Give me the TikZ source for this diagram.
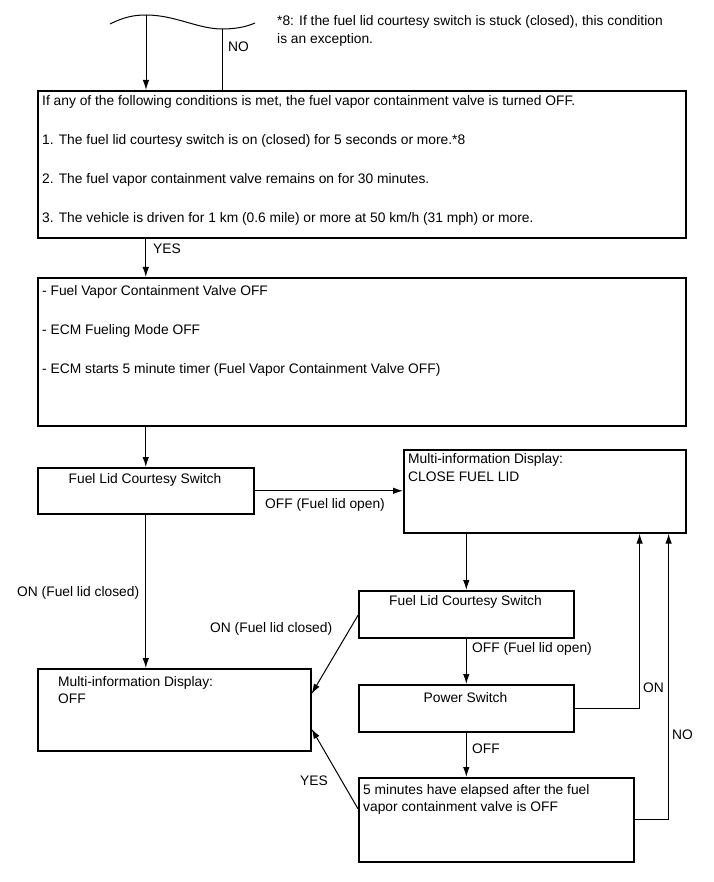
\documentclass[tikz,border=0pt]{standalone}
\usepackage{fontspec}
\setmainfont{Liberation Sans}
\usetikzlibrary{positioning,calc,arrows.meta}

\begin{document}
\begin{tikzpicture}[x=1pt,y=-1pt,
    box/.style={draw,line width=1.6pt,anchor=north west,inner sep=0pt},
    txt/.style={anchor=base west,inner sep=0pt,font=\fontsize{13.8}{17}\selectfont},
    ctxt/.style={txt,anchor=base},
    line/.style={line width=1pt},
    arr/.style={line,-{Latex[length=10pt,width=6.5pt]}}]
    \useasboundingbox (0,0) rectangle (713,882);

    % wavy cut at the top
    \draw[line] (110,24) .. controls (124,17) and (134,15) .. (146,15)
        .. controls (175,15) and (198,29) .. (222,29)
        .. controls (235,29) and (246,27) .. (255,23);
    \coordinate (wtop) at (146,15);
    \coordinate (wno) at (222,29);
    \node (note1) [txt] at (277,26) {*8: If the fuel lid courtesy switch is stuck (closed), this condition};
    \node (note2) [txt] at (277,44) {is an exception.};

    % boxes
    \node (cond) [box,minimum width=648pt,minimum height=147pt] at (37,90) {};
    \node (act) [box,minimum width=648pt,minimum height=148pt] at (37,277) {};
    \node (sw1) [box,minimum width=216pt,minimum height=46pt] at (37,467) {};
    \node (mid1) [box,minimum width=282pt,minimum height=83pt] at (403,449) {};
    \node (mid2) [box,minimum width=273pt,minimum height=82pt] at (37,668) {};
    \node (sw2) [box,minimum width=215pt,minimum height=47pt] at (358,590) {};
    \node (pwr) [box,minimum width=215pt,minimum height=47pt] at (358,684) {};
    \node (tmr) [box,minimum width=275pt,minimum height=84pt] at (358,777) {};

    % texts in the boxes
    \node (cond0) [txt] at (42,106) {If any of the following conditions is met, the fuel vapor containment valve is turned OFF.};
    \node (cond1) [txt] at (42,145) {1. The fuel lid courtesy switch is on (closed) for 5 seconds or more.*8};
    \node (cond2) [txt] at (42,184) {2. The fuel vapor containment valve remains on for 30 minutes.};
    \node (cond3) [txt] at (42,223) {3. The vehicle is driven for 1 km (0.6 mile) or more at 50 km/h (31 mph) or more.};
    \node (act1) [txt] at (42,295) {- Fuel Vapor Containment Valve OFF};
    \node (act2) [txt] at (42,334) {- ECM Fueling Mode OFF};
    \node (act3) [txt] at (42,373) {- ECM starts 5 minute timer (Fuel Vapor Containment Valve OFF)};
    \node (sw1t) [ctxt] at (145,483) {Fuel Lid Courtesy Switch};
    \node (mid1a) [txt] at (408,463) {Multi-information Display:};
    \node (mid1b) [txt] at (408,481) {CLOSE FUEL LID};
    \node (mid2a) [txt] at (58,686) {Multi-information Display:};
    \node (mid2b) [txt] at (58,703) {OFF};
    \node (sw2t) [ctxt] at (465.5,605) {Fuel Lid Courtesy Switch};
    \node (pwrt) [ctxt] at (465.5,702) {Power Switch};
    \node (tmra) [txt] at (363,794) {5 minutes have elapsed after the fuel};
    \node (tmrb) [txt] at (363,811) {vapor containment valve is OFF};

    % connectors
    \draw[arr] (wtop) -- (wtop |- cond.north);
    \draw[line] (wno) -- (wno |- cond.north);
    \draw[arr] (cond.south -| sw1.north) -- (act.north -| sw1.north);
    \draw[arr] (act.south -| sw1.north) -- (sw1.north);
    \draw[arr] (sw1.east) -- (sw1.east -| mid1.west);
    \draw[arr] (sw1.south) -- (sw1.south |- mid2.north);
    \draw[arr] (mid1.south -| sw2.north) -- (sw2.north);
    \draw[arr] ([yshift=-1pt]sw2.west) -- ([yshift=16pt]mid2.east);
    \draw[arr] (sw2.south) -- (pwr.north);
    \draw[arr] (pwr.south) -- (pwr.south |- tmr.north);
    \draw[arr] (pwr.east) -| ($(mid1.south east)+(-47,0)$);
    \draw[arr] ([yshift=11pt]tmr.west) -- ([yshift=-19pt]mid2.east);
    \draw[arr] (tmr.east) -| ($(mid1.south east)+(-18,0)$);

    % connector labels
    \node (no1) [txt] at (228,52) {NO};
    \node (yes1) [txt] at (153,254) {YES};
    \node (off1) [txt] at (265,508) {OFF (Fuel lid open)};
    \node (on1) [txt] at (17,596) {ON (Fuel lid closed)};
    \node (on2) [txt] at (210,632) {ON (Fuel lid closed)};
    \node (off2) [txt] at (472,652) {OFF (Fuel lid open)};
    \node (on3) [txt] at (643,692) {ON};
    \node (off3) [txt] at (472,753) {OFF};
    \node (yes2) [txt] at (300,785) {YES};
    \node (no2) [txt] at (672,739) {NO};
\end{tikzpicture}
\end{document}
